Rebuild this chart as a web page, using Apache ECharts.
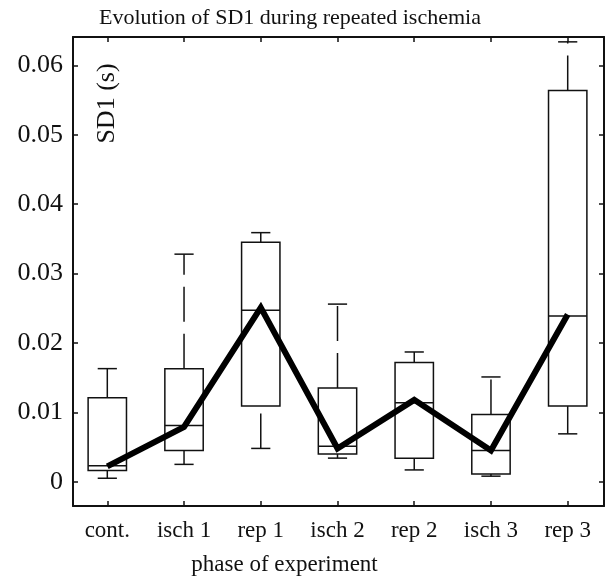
<!DOCTYPE html>
<html>
<head>
<meta charset="utf-8">
<script src="https://cdn.jsdelivr.net/npm/echarts@6/dist/echarts.min.js"></script>
<style>
  html, body { margin: 0; padding: 0; background: #fff; }
  #chart { width: 613px; height: 581px; }
</style>
</head>
<body>
<div id="chart"></div>
<script>
// phases of the experiment
const categories = ["cont.", "isch 1", "rep 1", "isch 2", "rep 2", "isch 3", "rep 3"];

// box plot statistics of SD1 (s)
const lowerWhisker = [0.0005, 0.0025, 0.0048, 0.0034, 0.0017, 0.0008, 0.0069];
const q1           = [0.0016, 0.0045, 0.0109, 0.0040, 0.0034, 0.0011, 0.0109];
const median       = [0.0023, 0.0081, 0.0247, 0.0051, 0.0114, 0.0045, 0.0239];
const q3           = [0.0121, 0.0163, 0.0345, 0.0135, 0.0172, 0.0097, 0.0564];
const upperWhisker = [0.0163, 0.0328, 0.0359, 0.0256, 0.0187, 0.0151, 0.0634];

// thick trend line through the phases
const trend = [0.0022, 0.0079, 0.0251, 0.0048, 0.0118, 0.0045, 0.0241];

// y ticks
const yTicks = [0, 0.01, 0.02, 0.03, 0.04, 0.05, 0.06];

const font = "Liberation Serif";
const ink = "#111";

const chart = echarts.init(document.getElementById("chart"));

const boxData = categories.map((c, i) => [i + 1, lowerWhisker[i], q1[i], median[i], q3[i], upperWhisker[i]]);
const trendData = categories.map((c, i) => [i + 1, trend[i]]);

function renderBox(params, api) {
    const x = api.value(0);
    const lo = api.coord([x, api.value(1)]);
    const qa = api.coord([x, api.value(2)]);
    const md = api.coord([x, api.value(3)]);
    const qb = api.coord([x, api.value(4)]);
    const hi = api.coord([x, api.value(5)]);
    const bw = api.size([0.5, 0])[0];
    const cw = api.size([0.25, 0])[0];
    const cx = qa[0];
    const solid = { stroke: ink, lineWidth: 1.5, fill: null };
    const dashed = { stroke: ink, lineWidth: 1.5, lineDash: [35, 12] };
    return {
        type: "group",
        children: [
            { type: "rect", shape: { x: cx - bw / 2, y: qb[1], width: bw, height: qa[1] - qb[1] }, style: solid },
            { type: "line", shape: { x1: cx - bw / 2, y1: md[1], x2: cx + bw / 2, y2: md[1] }, style: solid },
            // whiskers are drawn from the lower end upward
            { type: "line", shape: { x1: cx, y1: qb[1], x2: cx, y2: hi[1] }, style: dashed },
            { type: "line", shape: { x1: cx, y1: lo[1], x2: cx, y2: qa[1] }, style: dashed },
            { type: "line", shape: { x1: cx - cw / 2, y1: hi[1], x2: cx + cw / 2, y2: hi[1] }, style: solid },
            { type: "line", shape: { x1: cx - cw / 2, y1: lo[1], x2: cx + cw / 2, y2: lo[1] }, style: solid }
        ]
    };
}

function xLabel(v) {
    const i = Math.round(v);
    if (Math.abs(v - i) > 1e-6 || i < 1 || i > categories.length) return "";
    return categories[i - 1];
}
function yLabel(v) {
    for (const t of yTicks) {
        if (Math.abs(v - t) < 1e-9) return t === 0 ? "0" : t.toFixed(2);
    }
    return "";
}

const frameLine = { show: true, onZero: false, lineStyle: { color: ink, width: 2 } };
const innerTick = { show: true, inside: true, length: 5, lineStyle: { color: ink, width: 1.5 } };

function xAxisOpt(pos, withLabel) {
    return {
        type: "value", position: pos, min: 0.553, max: 7.473,
        minInterval: 1, maxInterval: 1,
        axisLine: frameLine, axisTick: innerTick, splitLine: { show: false },
        axisLabel: withLabel ? {
            show: true, margin: 13, formatter: xLabel,
            showMinLabel: false, showMaxLabel: false,
            fontFamily: font, fontSize: 23, color: ink
        } : { show: false },
        name: withLabel ? "phase of experiment" : "",
        nameLocation: "middle", nameGap: 47,
        nameTextStyle: { fontFamily: font, fontSize: 23, color: ink, padding: [0, 108, 0, 0] }
    };
}
function yAxisOpt(pos, withLabel) {
    return {
        type: "value", position: pos, min: -0.0035, max: 0.0641,
        minInterval: 0.01, maxInterval: 0.01,
        axisLine: frameLine, axisTick: innerTick, splitLine: { show: false },
        axisLabel: withLabel ? {
            show: true, margin: 10, formatter: yLabel,
            showMinLabel: false, showMaxLabel: false,
            fontFamily: font, fontSize: 26, color: ink, padding: [0, 0, 8, 0]
        } : { show: false }
    };
}

const option = {
    animation: false,
    backgroundColor: "#fff",
    title: {
        text: "Evolution of SD1 during repeated ischemia",
        left: 285, top: 2, textAlign: "center",
        textStyle: { fontFamily: font, fontSize: 22, fontWeight: "normal", color: ink }
    },
    grid: { left: 73, top: 37, width: 531, height: 469 },
    xAxis: [xAxisOpt("bottom", true), xAxisOpt("top", false)],
    yAxis: [yAxisOpt("left", true), yAxisOpt("right", false)],
    graphic: [{
        type: "text", x: 107.5, y: 103.5, rotation: Math.PI / 2,
        style: { text: "SD1 (s)", align: "center", verticalAlign: "middle", font: "26px 'Liberation Serif'", fill: ink }
    }],
    series: [
        {
            type: "custom",
            renderItem: renderBox,
            data: boxData,
            encode: { x: 0, y: [1, 2, 3, 4, 5] },
            z: 2
        },
        {
            type: "line",
            data: trendData,
            showSymbol: false,
            lineStyle: { color: "#000", width: 6, join: "miter" },
            z: 3
        }
    ]
};
chart.setOption(option);
</script>
</body>
</html>
